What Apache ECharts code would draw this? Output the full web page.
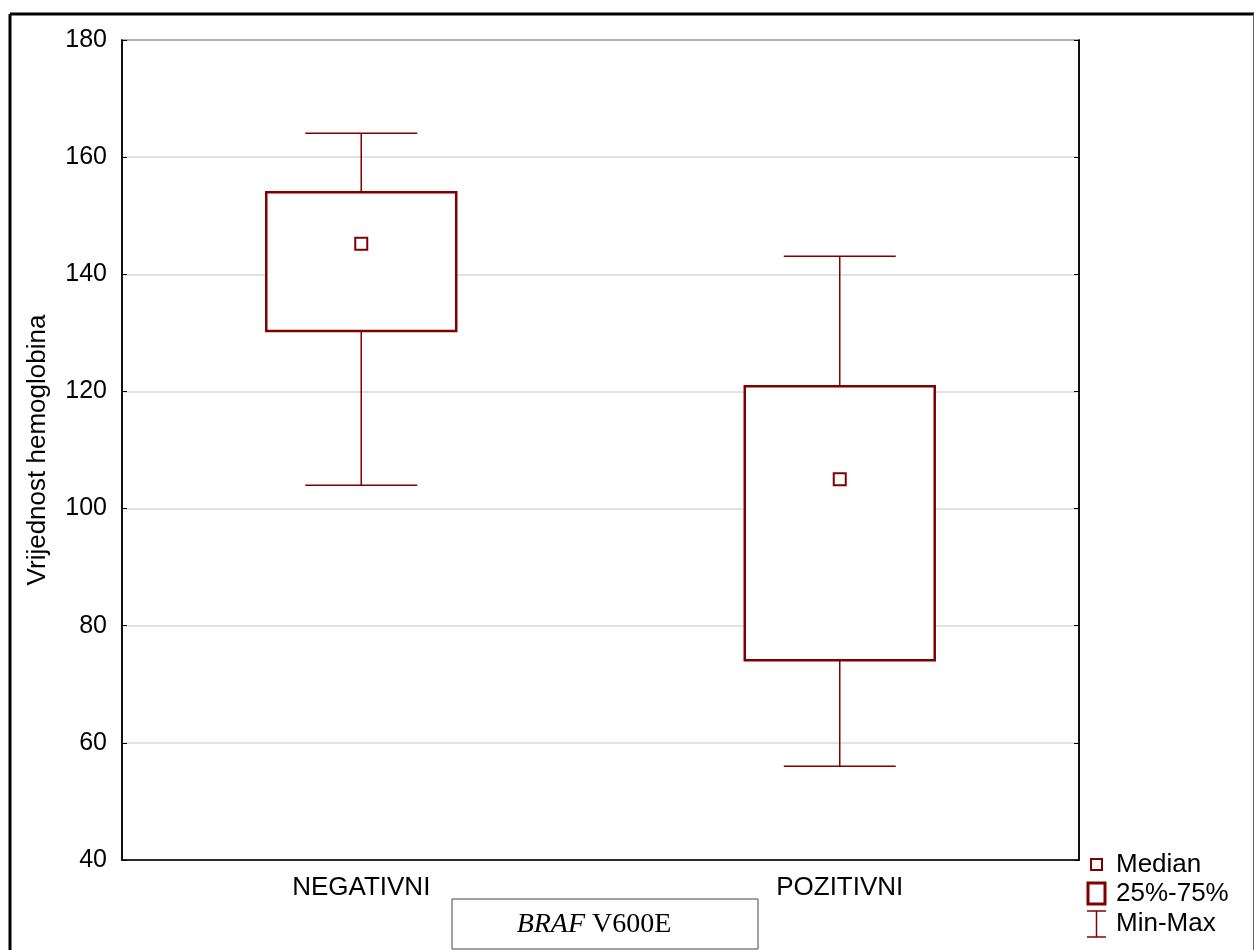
<!DOCTYPE html>
<html>
<head>
<meta charset="utf-8">
<script src="https://cdn.jsdelivr.net/npm/echarts@6/dist/echarts.min.js"></script>
<style>
  html, body { margin: 0; padding: 0; background: #fff; }
  #chart { width: 1255px; height: 950px; }
</style>
</head>
<body>
<div id="chart"></div>
<script>
const categories = ['NEGATIVNI', 'POZITIVNI']
const minVals = [104, 56]
const q1Vals = [130.3, 74.1]
const medianVals = [145.2, 105]
const q3Vals = [154, 120.9]
const maxVals = [164.1, 143.1]
const yTicks = { min: 40, max: 180, step: 20 }

const dark = '#800000'
const font = '"Liberation Sans", Arial, sans-serif'
const serif = '"Liberation Serif", "Times New Roman", serif'

const whiskerData = categories.map((c, i) => [i, minVals[i], q1Vals[i], q3Vals[i], maxVals[i]])
const boxData = categories.map((c, i) => [i, q1Vals[i], q3Vals[i]])
const medianData = categories.map((c, i) => [i, medianVals[i]])

const chart = echarts.init(document.getElementById('chart'))

chart.setOption({
  animation: false,
  backgroundColor: '#fff',
  grid: {
    left: 122, top: 40, right: 176, bottom: 90,
    show: true, borderColor: '#000', borderWidth: 1.5
  },
  xAxis: {
    type: 'category',
    data: categories,
    axisLine: { lineStyle: { color: '#000', width: 1.5 } },
    axisTick: { inside: true, alignWithLabel: true, length: 5, lineStyle: { color: '#000' } },
    axisLabel: { color: '#000', fontFamily: font, fontSize: 26, margin: 15 }
  },
  yAxis: [
    {
      type: 'value',
      min: yTicks.min, max: yTicks.max, interval: yTicks.step,
      name: 'Vrijednost hemoglobina',
      nameLocation: 'middle',
      nameGap: 71,
      nameTextStyle: { color: '#000', fontFamily: font, fontSize: 26 },
      axisLine: { show: true, lineStyle: { color: '#000', width: 1.5 } },
      axisTick: { show: true, inside: true, length: 5, lineStyle: { color: '#000' } },
      axisLabel: { color: '#000', fontFamily: font, fontSize: 25, margin: 15 },
      splitLine: { lineStyle: { color: '#d9d9d9', width: 1.5 } }
    },
    {
      type: 'value',
      position: 'right',
      min: yTicks.min, max: yTicks.max, interval: yTicks.step,
      axisLine: { show: true, lineStyle: { color: '#000', width: 1.5 } },
      axisTick: { show: true, inside: true, length: 5, lineStyle: { color: '#000' } },
      axisLabel: { show: false },
      splitLine: { show: false }
    }
  ],
  series: [
    {
      name: 'Min-Max',
      type: 'custom',
      data: whiskerData,
      encode: { x: 0, y: [1, 2, 3, 4] },
      renderItem: (params, api) => {
        const i = api.value(0)
        const pMin = api.coord([i, api.value(1)])
        const pQ1 = api.coord([i, api.value(2)])
        const pQ3 = api.coord([i, api.value(3)])
        const pMax = api.coord([i, api.value(4)])
        const half = api.size([1, 0])[0] * 0.117
        const style = { stroke: dark, lineWidth: 1.5 }
        return {
          type: 'group',
          children: [
            { type: 'line', shape: { x1: pMax[0], y1: pMax[1], x2: pQ3[0], y2: pQ3[1] }, style },
            { type: 'line', shape: { x1: pMin[0], y1: pMin[1], x2: pQ1[0], y2: pQ1[1] }, style },
            { type: 'line', shape: { x1: pMax[0] - half, y1: pMax[1], x2: pMax[0] + half, y2: pMax[1] }, style },
            { type: 'line', shape: { x1: pMin[0] - half, y1: pMin[1], x2: pMin[0] + half, y2: pMin[1] }, style }
          ]
        }
      }
    },
    {
      name: '25%-75%',
      type: 'custom',
      data: boxData,
      encode: { x: 0, y: [1, 2] },
      renderItem: (params, api) => {
        const i = api.value(0)
        const pLo = api.coord([i, api.value(1)])
        const pHi = api.coord([i, api.value(2)])
        const w = api.size([1, 0])[0] * 0.397
        return {
          type: 'rect',
          shape: { x: pLo[0] - w / 2, y: pHi[1], width: w, height: pLo[1] - pHi[1] },
          style: { fill: '#fff', stroke: dark, lineWidth: 2.5 }
        }
      }
    },
    {
      name: 'Median',
      type: 'scatter',
      data: medianData,
      symbol: 'rect',
      symbolSize: 12,
      itemStyle: { color: '#fff', borderColor: dark, borderWidth: 2, opacity: 1 }
    }
  ],
  graphic: [
    // outer frame
    { type: 'line', shape: { x1: 10, y1: 14, x2: 1254, y2: 14 }, style: { stroke: '#000', lineWidth: 3 } },
    { type: 'line', shape: { x1: 10, y1: 14, x2: 10, y2: 950 }, style: { stroke: '#000', lineWidth: 3 } },
    { type: 'line', shape: { x1: 1253.5, y1: 14, x2: 1253.5, y2: 950 }, style: { stroke: '#666', lineWidth: 1 } },
    // x axis title box
    { type: 'rect', shape: { x: 452, y: 899, width: 306, height: 50 }, style: { fill: '#fff', stroke: '#444', lineWidth: 1 } },
    {
      type: 'text', x: 594, y: 925,
      style: {
        text: '{i|BRAF} V600E',
        rich: { i: { fontStyle: 'italic', fontFamily: serif, fontSize: 28 } },
        fontFamily: serif, fontSize: 28,
        fill: '#000', align: 'center', verticalAlign: 'middle'
      }
    },
    // legend
    { type: 'rect', shape: { x: 1091, y: 859, width: 11, height: 11 }, style: { fill: '#fff', stroke: dark, lineWidth: 2 } },
    { type: 'rect', shape: { x: 1088, y: 883, width: 17, height: 21 }, style: { fill: '#fff', stroke: dark, lineWidth: 3 } },
    { type: 'line', shape: { x1: 1087, y1: 911, x2: 1106, y2: 911 }, style: { stroke: dark, lineWidth: 1.5 } },
    { type: 'line', shape: { x1: 1096.5, y1: 911, x2: 1096.5, y2: 937 }, style: { stroke: dark, lineWidth: 1.5 } },
    { type: 'line', shape: { x1: 1087, y1: 937, x2: 1106, y2: 937 }, style: { stroke: dark, lineWidth: 1.5 } },
    { type: 'text', x: 1116, y: 865, style: { text: 'Median', fontFamily: font, fontSize: 26, fill: '#000', verticalAlign: 'middle' } },
    { type: 'text', x: 1116, y: 894, style: { text: '25%-75%', fontFamily: font, fontSize: 26, fill: '#000', verticalAlign: 'middle' } },
    { type: 'text', x: 1116, y: 924, style: { text: 'Min-Max', fontFamily: font, fontSize: 26, fill: '#000', verticalAlign: 'middle' } }
  ]
})

window.addEventListener('resize', () => chart.resize())
</script>
</body>
</html>
